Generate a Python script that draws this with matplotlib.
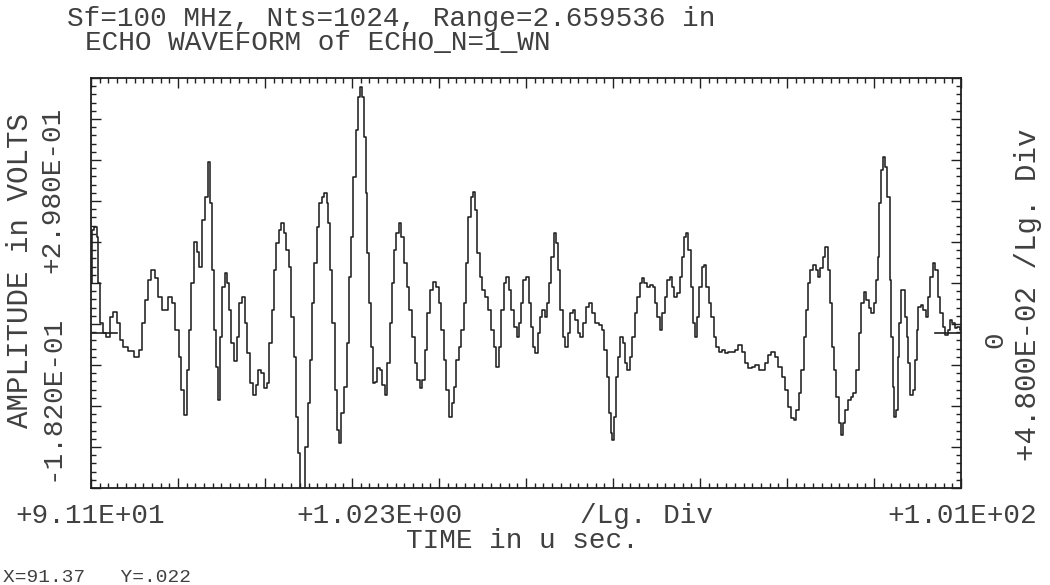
import numpy as np
import matplotlib
matplotlib.use("Agg")
import matplotlib.pyplot as plt

# echo waveform (time in u sec, amplitude in volts)
time_us = [
    91.10, 91.12, 91.15, 91.18, 91.19, 91.23, 91.26, 91.30, 91.34, 91.38,
    91.42, 91.46, 91.50, 91.56, 91.64, 91.68, 91.72, 91.75, 91.79, 91.83,
    91.87, 91.91, 91.95, 91.99, 92.03, 92.07, 92.11, 92.15, 92.17, 92.21,
    92.24, 92.26, 92.29, 92.33, 92.36, 92.39, 92.42, 92.45, 92.49, 92.51,
    92.54, 92.56, 92.58, 92.60, 92.63, 92.66, 92.68, 92.71, 92.73, 92.76,
    92.80, 92.83, 92.86, 92.89, 92.92, 92.95, 92.98, 93.02, 93.05, 93.08,
    93.11, 93.15, 93.18, 93.21, 93.24, 93.26, 93.30, 93.32, 93.35, 93.38,
    93.41, 93.44, 93.47, 93.50, 93.52, 93.55, 93.57, 93.59, 93.64, 93.66,
    93.69, 93.71, 93.74, 93.77, 93.80, 93.83, 93.86, 93.88, 93.90, 93.92,
    93.95, 93.98, 94.01, 94.03, 94.06, 94.09, 94.12, 94.15, 94.17, 94.20,
    94.23, 94.26, 94.27, 94.30, 94.32, 94.34, 94.36, 94.38, 94.40, 94.43,
    94.45, 94.48, 94.51, 94.54, 94.57, 94.60, 94.62, 94.65, 94.67, 94.71,
    94.73, 94.76, 94.79, 94.83, 94.86, 94.89, 94.92, 94.95, 94.98, 95.01,
    95.04, 95.07, 95.10, 95.14, 95.18, 95.20, 95.23, 95.26, 95.29, 95.33,
    95.35, 95.38, 95.41, 95.44, 95.47, 95.50, 95.52, 95.55, 95.58, 95.60,
    95.63, 95.65, 95.69, 95.71, 95.75, 95.79, 95.82, 95.85, 95.88, 95.91,
    95.94, 95.97, 96.00, 96.03, 96.05, 96.09, 96.12, 96.14, 96.17, 96.20,
    96.23, 96.26, 96.28, 96.31, 96.34, 96.37, 96.39, 96.42, 96.45, 96.47,
    96.50, 96.52, 96.56, 96.58, 96.61, 96.63, 96.66, 96.69, 96.72, 96.75,
    96.78, 96.81, 96.84, 96.87, 96.90, 96.93, 96.97, 97.01, 97.05, 97.09,
    97.12, 97.15, 97.18, 97.20, 97.22, 97.24, 97.26, 97.29, 97.31, 97.34,
    97.37, 97.39, 97.42, 97.45, 97.48, 97.51, 97.54, 97.57, 97.59, 97.62,
    97.65, 97.69, 97.72, 97.74, 97.77, 97.80, 97.83, 97.86, 97.89, 97.92,
    97.94, 97.98, 98.01, 98.03, 98.06, 98.08, 98.11, 98.14, 98.16, 98.19,
    98.21, 98.24, 98.27, 98.30, 98.32, 98.35, 98.38, 98.41, 98.44, 98.47,
    98.50, 98.54, 98.58, 98.61, 98.65, 98.69, 98.73, 98.77, 98.81, 98.85,
    98.89, 98.93, 98.97, 99.01, 99.05, 99.08, 99.12, 99.16, 99.20, 99.24,
    99.28, 99.32, 99.35, 99.38, 99.41, 99.44, 99.46, 99.50, 99.52, 99.54,
    99.57, 99.61, 99.63, 99.66, 99.69, 99.72, 99.75, 99.78, 99.80, 99.83,
    99.85, 99.88, 99.90, 99.93, 99.95, 99.99, 100.02, 100.05, 100.08, 100.11,
    100.14, 100.17, 100.20, 100.23, 100.26, 100.29, 100.32, 100.34, 100.36, 100.38,
    100.40, 100.43, 100.45, 100.48, 100.50, 100.52, 100.53, 100.55, 100.58, 100.59,
    100.61, 100.63, 100.66, 100.68, 100.70, 100.72, 100.75, 100.78, 100.80, 100.82,
    100.84, 100.87, 100.90, 100.93, 100.95, 100.99, 101.02, 101.04, 101.07, 101.10,
    101.13, 101.16, 101.19, 101.21, 101.24, 101.27, 101.30, 101.33,
]
amplitude_v = [
    0.058, 0.120, 0.124, 0.112, 0.058, 0.011, -0.001, -0.005, 0.018, 0.024,
    0.011, -0.009, -0.017, -0.022, -0.029, -0.020, 0.011, 0.038, 0.061, 0.073,
    0.064, 0.042, 0.026, 0.026, 0.042, 0.035, 0.003, -0.029, -0.067, -0.097,
    -0.044, 0.003, 0.058, 0.106, 0.094, 0.077, 0.132, 0.159, 0.200, 0.152,
    0.073, 0.003, -0.040, -0.079, -0.005, 0.053, 0.070, 0.058, 0.026, -0.012,
    -0.033, -0.005, 0.035, 0.042, 0.011, -0.024, -0.059, -0.073, -0.061, -0.044,
    -0.047, -0.065, -0.059, -0.012, 0.026, 0.073, 0.105, 0.120, 0.128, 0.116,
    0.097, 0.077, 0.018, -0.029, -0.099, -0.141, -0.188, -0.188, -0.134, -0.083,
    -0.032, 0.035, 0.081, 0.124, 0.152, 0.159, 0.163, 0.152, 0.128, 0.073,
    0.011, -0.067, -0.114, -0.129, -0.094, -0.064, -0.012, 0.065, 0.112, 0.182,
    0.237, 0.276, 0.287, 0.276, 0.229, 0.163, 0.093, 0.035, -0.017, -0.059,
    -0.058, -0.042, -0.044, -0.061, -0.073, -0.036, 0.011, 0.058, 0.097, 0.116,
    0.128, 0.112, 0.081, 0.053, 0.026, -0.005, -0.036, -0.056, -0.065, -0.056,
    -0.020, 0.023, 0.050, 0.059, 0.053, 0.035, 0.003, -0.032, -0.067, -0.099,
    -0.083, -0.064, -0.032, -0.017, 0.003, 0.035, 0.081, 0.135, 0.159, 0.164,
    0.143, 0.093, 0.065, 0.050, 0.042, 0.026, 0.003, -0.017, -0.040, -0.017,
    0.026, 0.058, 0.065, 0.050, 0.026, 0.006, -0.005, 0.011, 0.035, 0.061,
    0.065, 0.035, 0.006, -0.017, -0.024, -0.001, 0.018, 0.026, 0.018, 0.035,
    0.058, 0.088, 0.116, 0.105, 0.073, 0.026, -0.005, -0.017, -0.001, 0.023,
    0.026, 0.015, -0.001, -0.005, 0.011, 0.030, 0.035, 0.023, 0.011, 0.009,
    0.003, -0.020, -0.052, -0.094, -0.118, -0.126, -0.099, -0.052, -0.029, -0.005,
    -0.012, -0.036, -0.044, -0.029, -0.005, 0.023, 0.042, 0.058, 0.064, 0.058,
    0.053, 0.056, 0.053, 0.035, 0.018, 0.003, 0.023, 0.042, 0.061, 0.065,
    0.053, 0.042, 0.046, 0.065, 0.088, 0.112, 0.116, 0.097, 0.053, 0.011,
    -0.005, 0.018, 0.053, 0.077, 0.079, 0.053, 0.035, 0.018, -0.005, -0.017,
    -0.023, -0.020, -0.024, -0.023, -0.023, -0.020, -0.015, -0.023, -0.036, -0.042,
    -0.040, -0.038, -0.044, -0.044, -0.036, -0.026, -0.023, -0.029, -0.040, -0.052,
    -0.067, -0.087, -0.100, -0.102, -0.091, -0.071, -0.044, -0.005, 0.026, 0.058,
    0.073, 0.079, 0.073, 0.065, 0.076, 0.088, 0.100, 0.073, 0.035, -0.017,
    -0.044, -0.076, -0.106, -0.120, -0.106, -0.091, -0.079, -0.076, -0.071, -0.044,
    -0.001, 0.035, 0.047, 0.038, 0.029, 0.023, 0.035, 0.061, 0.088, 0.152,
    0.190, 0.205, 0.194, 0.159, 0.061, -0.005, -0.064, -0.099, -0.091, -0.029,
    0.011, 0.050, 0.050, 0.018, -0.005, -0.036, -0.073, -0.067, -0.032, 0.003,
    0.030, 0.032, 0.026, 0.018, 0.042, 0.065, 0.081, 0.073, 0.042, 0.023,
    0.006, -0.003, 0.003, 0.015, 0.011, 0.005, 0.006, 0.003,
]

t_start = 91.10
t_div = 1.023      # u sec per large division
v_min, v_max = -0.182, 0.298
v_div = 0.048      # volts per large division

ink = "#202020"
txt = "#404040"
font = "Liberation Mono"

fig = plt.figure(figsize=(10.5, 5.85), dpi=100)
ax = fig.add_axes([91 / 1050, 1 - 488 / 585, 870 / 1050, 410 / 585])

ax.plot(time_us, amplitude_v, color=ink, lw=1.15, drawstyle="steps-mid")

t_end = t_start + 10 * t_div
ax.set_xlim(t_start, t_end)
ax.set_ylim(v_min, v_max)

# zero reference marks at both ends
ax.plot([t_start, t_start + 0.31], [0, 0], color=ink, lw=1.2)
ax.plot([t_end - 0.31, t_end], [0, 0], color=ink, lw=1.2)

ax.set_xticks(t_start + t_div * np.arange(11))
ax.set_xticks(t_start + t_div / 10 * np.arange(101), minor=True)
ax.set_yticks(v_min + v_div * np.arange(11))
ax.set_yticks(v_min + v_div / 5 * np.arange(51), minor=True)
ax.set_xticklabels([])
ax.set_yticklabels([])
ax.tick_params(which="both", direction="in", top=True, right=True,
               color=ink, width=1.0)
ax.tick_params(which="major", length=7)
ax.tick_params(which="minor", length=3.5)
for s in ax.spines.values():
    s.set_color(ink)
    s.set_linewidth(1.3)


def put(x, y, s, **kw):
    kw.setdefault("family", font)
    kw.setdefault("fontsize", 20)
    kw.setdefault("color", txt)
    kw.setdefault("ha", "center")
    kw.setdefault("va", "center")
    fig.text(x / 1050, 1 - y / 585, s, **kw)


put(67, 19, "Sf=100 MHz, Nts=1024, Range=2.659536 in", ha="left")
put(85, 43, "ECHO WAVEFORM of ECHO_N=1_WN", ha="left")

put(20, 270, "AMPLITUDE in VOLTS", rotation=90, fontsize=21)
put(52, 190, "+2.980E-01", rotation=90)
put(52, 398, "-1.820E-01", rotation=90)

put(1028, 295, "+4.800E-02 /Lg. Div", rotation=90, fontsize=21)
put(995, 340, "0", rotation=90)

put(90, 516, "+9.11E+01")
put(380, 516, "+1.023E+00")
put(646, 516, "/Lg. Div")
put(962, 516, "+1.01E+02")
put(522, 541, "TIME in u sec.")
put(3, 577, "X=91.37   Y=.022", ha="left", fontsize=14)

fig.savefig("out.png", dpi=100)
